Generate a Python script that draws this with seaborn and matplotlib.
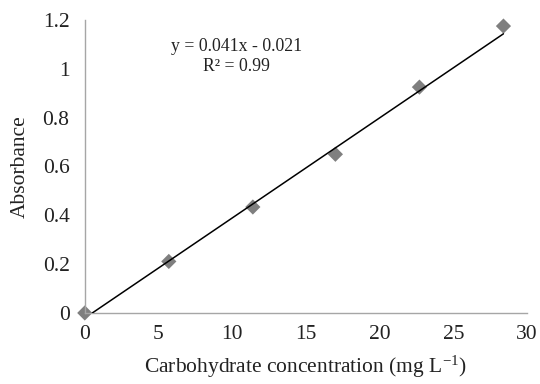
import matplotlib
matplotlib.use("Agg")
import matplotlib.pyplot as plt
import seaborn as sns
import numpy as np
import pandas as pd

conc = [0, 5.7, 11.4, 17.0, 22.7, 28.4]
absorb = [0.0, 0.211, 0.434, 0.65, 0.925, 1.175]
slope = 0.041
intercept = -0.021
eq_text = "y = 0.041x - 0.021"
r2_text = "R² = 0.99"

sns.set_theme(style="white")
plt.rcParams['font.family'] = ['Liberation Serif', 'DejaVu Serif']
plt.rcParams['mathtext.fontset'] = 'custom'
plt.rcParams['mathtext.rm'] = 'Liberation Serif'
plt.rcParams['mathtext.it'] = 'Liberation Serif:italic'

fig = plt.figure(figsize=(5.4, 3.84), dpi=100)
ax = fig.add_axes([0.157, 0.185, 0.819, 0.763])

df = pd.DataFrame({"x": conc, "y": absorb})
x0 = -intercept / slope
xl = np.array([x0, conc[-1]])
ax.plot(xl, slope * xl + intercept, color="black", lw=1.1, zorder=3)
sns.scatterplot(data=df, x="x", y="y", marker="D", s=60, color="#7f7f7f",
                edgecolor="none", ax=ax, zorder=2, clip_on=False)

ax.set_xlim(0, 30)
ax.set_ylim(0, 1.2)
ax.set_xticks(range(0, 31, 5))
ax.set_yticks([0, 0.2, 0.4, 0.6, 0.8, 1.0, 1.2])
ax.set_yticklabels(["0", "0.2", "0.4", "0.6", "0.8", "1", "1.2"])
for s in ["top", "right"]:
    ax.spines[s].set_visible(False)
for s in ["left", "bottom"]:
    ax.spines[s].set_color("#a6a6a6")
    ax.spines[s].set_linewidth(1.0)
ax.tick_params(axis="both", direction="out", length=5, width=1.0, color="#a6a6a6",
               labelsize=15.5, labelcolor="#222222")
ax.tick_params(axis="x", pad=4)
ax.tick_params(axis="y", pad=6)
ax.set_xlabel("Carbohydrate concentration (mg L$^{\u2212 1}$)", fontsize=15.5,
              labelpad=7, color="#222222")
ax.set_ylabel("Absorbance", fontsize=15.5, labelpad=9, color="#222222")

ax.text(0.344, 0.908, eq_text, transform=ax.transAxes, ha="center", va="center",
        fontsize=12.8, color="#222222")
ax.text(0.344, 0.84, r2_text, transform=ax.transAxes, ha="center", va="center",
        fontsize=12.8, color="#222222")

fig.savefig("out.png", dpi=100)
